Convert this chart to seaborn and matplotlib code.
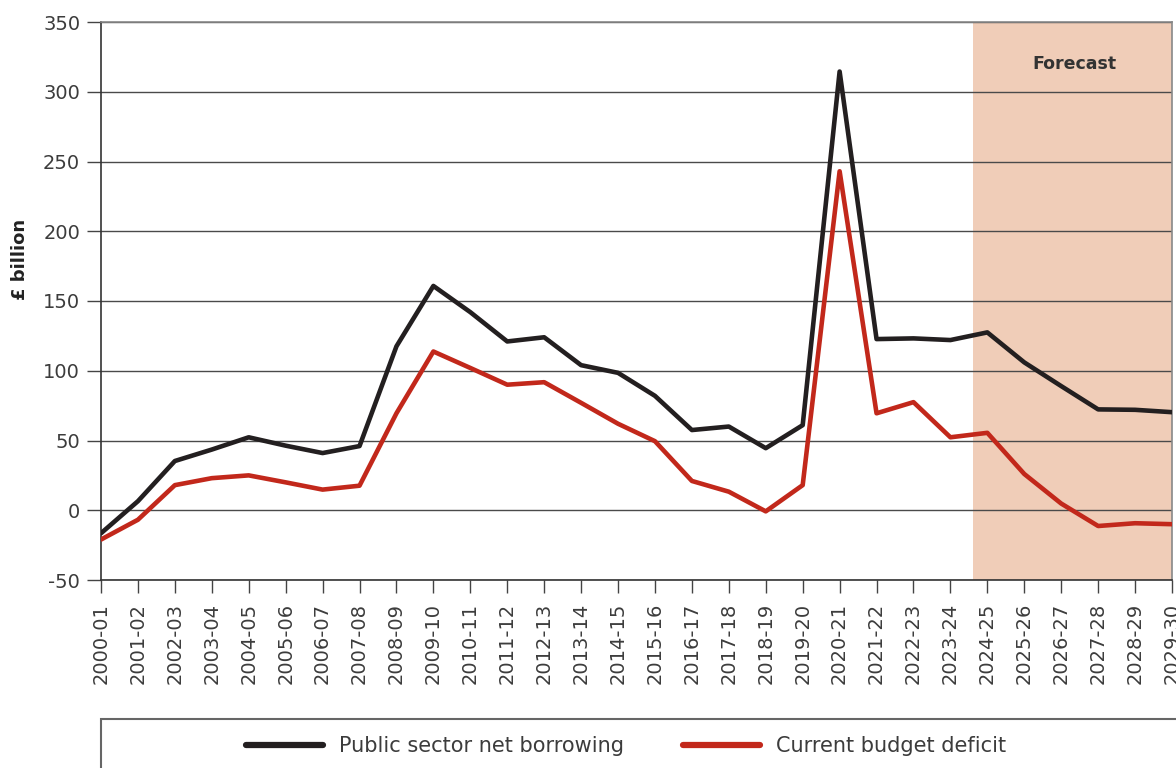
import matplotlib
matplotlib.use("Agg")
import matplotlib.pyplot as plt
import seaborn as sns
import pandas as pd
import numpy as np
from matplotlib.patches import Rectangle

# Mali yıllar
yillar = ['2000-01', '2001-02', '2002-03', '2003-04', '2004-05', '2005-06',
          '2006-07', '2007-08', '2008-09', '2009-10', '2010-11', '2011-12',
          '2012-13', '2013-14', '2014-15', '2015-16', '2016-17', '2017-18',
          '2018-19', '2019-20', '2020-21', '2021-22', '2022-23', '2023-24',
          '2024-25', '2025-26', '2026-27', '2027-28', '2028-29', '2029-30']

# Public sector net borrowing (£ billion)
psnb = [-16.5, 6.5, 35.3, 43.5, 52.3, 46.3, 41.0, 46.0, 117.5, 160.8,
        142.0, 121.0, 124.0, 104.0, 98.5, 82.0, 57.5, 60.0, 44.5, 61.0,
        314.5, 122.7, 123.2, 122.0, 127.5, 106.0, 89.0, 72.3, 72.0, 70.3]

# Current budget deficit (£ billion)
cbd = [-21.0, -6.8, 18.0, 23.0, 25.0, 20.0, 14.8, 17.6, 69.5, 113.8,
       102.0, 90.0, 91.8, 77.0, 62.0, 49.5, 21.0, 13.3, -0.8, 18.0,
       243.0, 69.5, 77.5, 52.3, 55.5, 26.0, 4.8, -11.3, -9.3, -10.0]

seri_isimleri = ['Public sector net borrowing', 'Current budget deficit']
renkler = {'Public sector net borrowing': '#231f20',
           'Current budget deficit': '#c2281b'}

tahmin_baslangic = 23.62
tahmin_etiketi = 'Forecast'

df = pd.DataFrame({
    'idx': list(range(len(yillar))) * 2,
    'deger': psnb + cbd,
    'seri': [seri_isimleri[0]] * len(yillar) + [seri_isimleri[1]] * len(yillar),
})

sns.set_style("white")
plt.rcParams['font.family'] = ['DejaVu Sans']
plt.rcParams['axes.unicode_minus'] = False

yazi_rengi = '#3c3c3c'

fig = plt.figure(figsize=(11.76, 7.68), dpi=100)
ax = fig.add_axes([101 / 1176, 1 - 580 / 768, (1172 - 101) / 1176, (580 - 22) / 768])

# Tahmin bölgesi
ax.axvspan(tahmin_baslangic, len(yillar) - 1, color='#f0cdb8', zorder=0, lw=0)

sns.lineplot(data=df, x='idx', y='deger', hue='seri', palette=renkler,
             linewidth=3.3, ax=ax, legend=False, zorder=3)

ax.set_xlim(0, len(yillar) - 1)
ax.set_ylim(-50, 350)
ax.set_yticks(np.arange(-50, 351, 50))
ax.set_xticks(range(len(yillar)))
ax.set_xticklabels(yillar, rotation=90, fontsize=14, color=yazi_rengi)
ax.tick_params(axis='y', labelsize=14, labelcolor=yazi_rengi, length=10,
               width=1, color='#444444', direction='out', left=True, pad=5)
ax.tick_params(axis='x', length=9.5, width=1, color='#444444',
               direction='out', bottom=True, pad=7)
ax.yaxis.grid(True, color='#4a4a4a', linewidth=1)
for g in ax.get_ygridlines():
    g.set_zorder(1)
for s in ['left', 'bottom']:
    ax.spines[s].set_color('#333333')
    ax.spines[s].set_linewidth(1.2)
for s in ['top', 'right']:
    ax.spines[s].set_color('#888888')
    ax.spines[s].set_linewidth(1.2)

ax.set_xlabel('')
ax.set_ylabel('£ billion', fontsize=13, fontweight='bold', color='#222222')
ax.yaxis.set_label_coords((29 - 101) / 1071, (580 - 259) / 558)

ax.text(26.35, 320, tahmin_etiketi, fontsize=12.5, fontweight='bold',
        color='#333333', ha='center', va='center')

# Lejant kutusu
kutu = Rectangle((101 / 1176, -0.01), 1.0, (768 - 719) / 768 + 0.01,
                 transform=fig.transFigure, fill=False,
                 edgecolor='#666666', linewidth=1.5)
fig.patches.append(kutu)
cizgiler = [plt.Line2D([], [], color=renkler[s], linewidth=4.5, solid_capstyle='round')
            for s in seri_isimleri]
fig.legend(cizgiler, seri_isimleri, loc='center', bbox_to_anchor=(626 / 1176, 1 - 746 / 768),
           ncol=2, frameon=False, fontsize=15, handlelength=3.7, columnspacing=2.8,
           handletextpad=0.8, labelcolor=yazi_rengi)

fig.savefig('out.png', dpi=100)
